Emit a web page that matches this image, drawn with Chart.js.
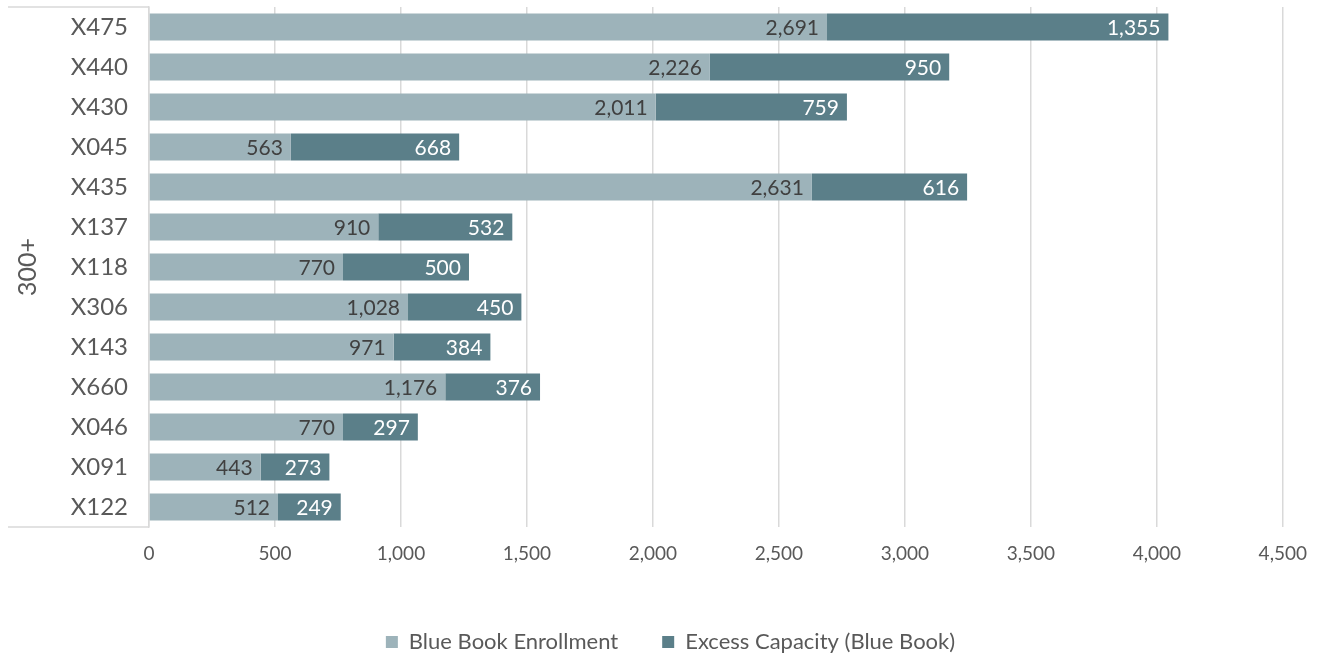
<!DOCTYPE html>
<html>
<head>
<meta charset="utf-8">
<script src="https://cdn.jsdelivr.net/npm/chart.js@4"></script>
<style>
  html, body { margin: 0; padding: 0; background: #fff; }
  #wrap { width: 1322px; height: 656px; }
</style>
</head>
<body>
<div id="wrap"><canvas id="myBarChart"></canvas></div>
<script>
// categories (top to bottom)
const schools = ['X475', 'X440', 'X430', 'X045', 'X435', 'X137', 'X118', 'X306', 'X143', 'X660', 'X046', 'X091', 'X122'];
// series values
const enrollment = [2691, 2226, 2011, 563, 2631, 910, 770, 1028, 971, 1176, 770, 443, 512];
const excess = [1355, 950, 759, 668, 616, 532, 500, 450, 384, 376, 297, 273, 249];
const groupLabel = '300+';

const FONT = 'Lato, "Open Sans", sans-serif';

// bracket lines around the category labels (Excel style)
const bracket = {
  id: 'bracket',
  afterDraw(chart) {
    const ctx = chart.ctx, a = chart.chartArea;
    ctx.save();
    ctx.strokeStyle = '#d9d9d9';
    ctx.lineWidth = 1.5;
    ctx.beginPath();
    ctx.moveTo(8, a.top); ctx.lineTo(a.left, a.top);
    ctx.moveTo(8, a.bottom); ctx.lineTo(a.left, a.bottom);
    ctx.stroke();
    ctx.restore();
  }
};

// value labels, inside end of each segment
const barLabels = {
  id: 'barLabels',
  afterDatasetsDraw(chart) {
    const ctx = chart.ctx;
    ctx.save();
    ctx.font = '21px ' + FONT;
    ctx.textAlign = 'right';
    ctx.textBaseline = 'middle';
    chart.data.datasets.forEach((ds, i) => {
      ctx.fillStyle = i === 0 ? '#404040' : '#ffffff';
      chart.getDatasetMeta(i).data.forEach((bar, j) => {
        ctx.fillText(ds.data[j].toLocaleString('en-US'), bar.x - 8, bar.y + 1);
      });
    });
    ctx.restore();
  }
};

// wider gap between legend items without the extra height,
// and centre it a bit further right like the original
const legendHeight = {
  id: 'legendHeight',
  beforeInit(chart) {
    const fit = chart.legend.fit;
    chart.legend.fit = function () {
      fit.bind(chart.legend)();
      this.height = 69;
    };
  },
  afterLayout(chart) {
    chart.legend.left += 58;
  }
};

const data2 = {
  labels: schools,
  datasets: [{
    label: 'Blue Book Enrollment',
    data: enrollment,
    backgroundColor: '#9db3ba',
    barPercentage: 0.68,
    categoryPercentage: 1
  }, {
    label: 'Excess Capacity (Blue Book)',
    data: excess,
    backgroundColor: '#5b7f89',
    barPercentage: 0.68,
    categoryPercentage: 1
  }]
};

const config2 = {
  type: 'bar',
  data: data2,
  options: {
    indexAxis: 'y',
    responsive: true,
    maintainAspectRatio: false,
    animation: false,
    layout: { padding: { top: 7, right: 39, left: 0, bottom: 0 } },
    plugins: {
      legend: {
        position: 'bottom',
        labels: {
          font: { family: FONT, size: 22 },
          color: '#595959',
          boxWidth: 12,
          boxHeight: 12,
          padding: 44
        }
      },
      tooltip: { enabled: false }
    },
    scales: {
      x: {
        stacked: true,
        min: 0,
        max: 4500,
        ticks: {
          stepSize: 500,
          font: { family: FONT, size: 19 },
          color: '#595959',
          padding: 15
        },
        grid: { color: '#d9d9d9', lineWidth: 1.5, drawTicks: false },
        border: { display: false },
        afterFit(scale) { scale.height = 60; }
      },
      y: {
        stacked: true,
        ticks: {
          font: { family: FONT, size: 24 },
          color: '#595959',
          padding: 21
        },
        grid: { display: false, drawTicks: false },
        border: { display: true, color: '#d9d9d9', width: 1.5 },
        title: {
          display: true,
          text: groupLabel,
          font: { family: FONT, size: 25 },
          color: '#595959',
          padding: { top: 13, bottom: 0 }
        },
        afterFit(scale) {
          scale.width = 149;
          scale.paddingTop = 0;
          scale.paddingBottom = 0;
        }
      }
    }
  },
  plugins: [bracket, barLabels, legendHeight]
};

const myChart2 = new Chart(document.getElementById('myBarChart'), config2);
</script>
</body>
</html>
